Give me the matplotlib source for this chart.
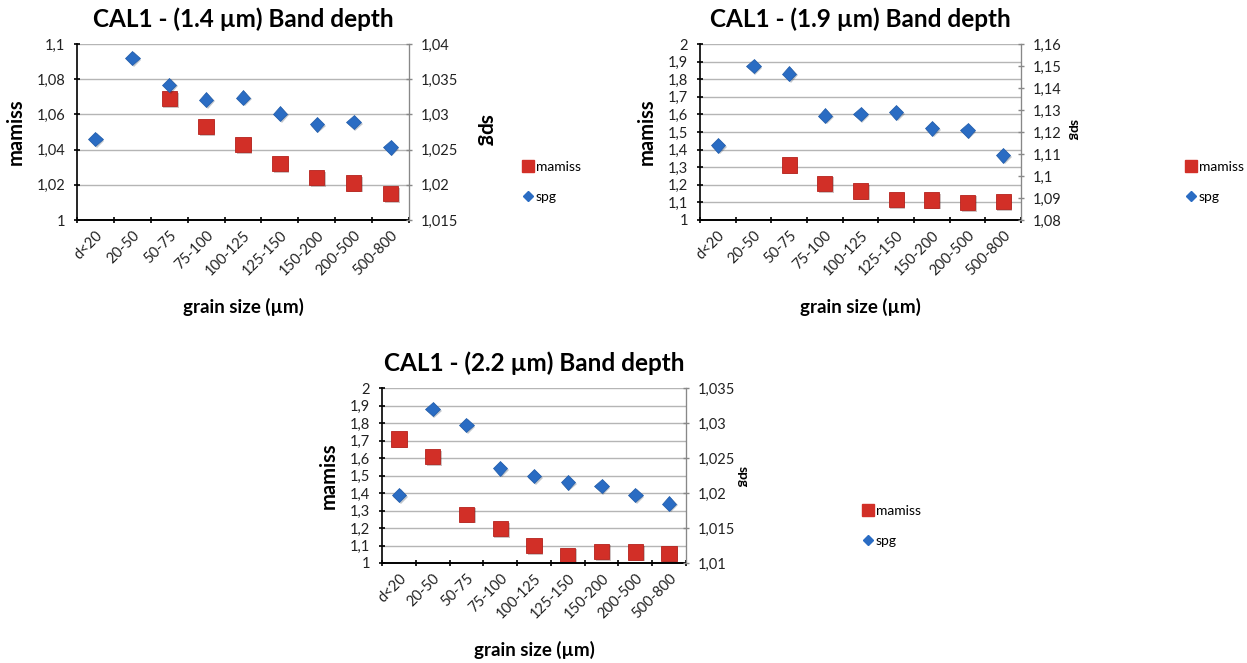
import matplotlib.pyplot as plt
import matplotlib.patheffects as pe
import numpy as np
from matplotlib.lines import Line2D
from matplotlib.ticker import FixedLocator, FuncFormatter

plt.rcParams['font.family'] = ['Lato', 'DejaVu Sans']

categories = ['d<20', '20-50', '50-75', '75-100', '100-125', '125-150',
              '150-200', '200-500', '500-800']

# 1.4 um band
mamiss_14 = [np.nan, np.nan, 1.069, 1.053, 1.043, 1.032, 1.024, 1.021, 1.015]
spg_14 = [1.0265, 1.038, 1.0342, 1.0321, 1.0324, 1.0301, 1.0286, 1.0289, 1.0253]

# 1.9 um band
mamiss_19 = [np.nan, np.nan, 1.313, 1.209, 1.165, 1.118, 1.113, 1.100, 1.104]
spg_19 = [1.1139, 1.150, 1.1465, 1.1275, 1.1281, 1.1289, 1.1216, 1.1207, 1.1094]

# 2.2 um band
mamiss_22 = [1.709, 1.608, 1.279, 1.197, 1.101, 1.044, 1.066, 1.063, 1.054]
spg_22 = [1.0197, 1.032, 1.0297, 1.0235, 1.0224, 1.0215, 1.0210, 1.0197, 1.0185]

RED = '#d22f27'
BLUE = '#2a6cc3'
W, H = 1247, 663


def comma_fmt(v, pos=None):
    return ('%g' % round(v, 4)).replace('.', ',')


def panel(box, title, mamiss, spg, left_ticks, right_ticks, legend_xy,
          spg_size, spg_xy):
    x0, y0, x1, y1 = box
    ax = fig.add_axes([x0 / W, 1 - y1 / H, (x1 - x0) / W, (y1 - y0) / H])
    ax2 = ax.twinx()
    x = np.arange(len(categories))
    shadow = [pe.SimplePatchShadow(offset=(1.2, -1.2), alpha=0.25), pe.Normal()]

    ax.plot(x, mamiss, 's', ms=11, color=RED, mec='#b5221c', mew=0.6,
            path_effects=shadow)
    ax2.plot(x, spg, 'D', ms=7.4, color=BLUE, mec='#1f5aa8', mew=0.5,
             path_effects=shadow)

    ax.set_xlim(-0.5, len(categories) - 0.5)
    ax.set_ylim(left_ticks[0], left_ticks[-1])
    ax2.set_ylim(right_ticks[0], right_ticks[-1])
    ax.yaxis.set_major_locator(FixedLocator(left_ticks))
    ax2.yaxis.set_major_locator(FixedLocator(right_ticks))
    ax.yaxis.set_major_formatter(FuncFormatter(comma_fmt))
    ax2.yaxis.set_major_formatter(FuncFormatter(comma_fmt))

    ax.set_xticks(x)
    ax.set_xticklabels(categories, rotation=45, ha='right',
                       rotation_mode='anchor', fontsize=10.5, color='#222222')
    ax.tick_params(axis='x', which='major', length=0, pad=6)
    ax.set_xticks(np.arange(-0.5, len(categories)), minor=True)
    ax.tick_params(axis='x', which='minor', length=5, direction='inout',
                   width=1.2)
    ax.tick_params(axis='y', length=5, direction='inout', width=1.2,
                   labelsize=10.5, labelcolor='#222222', pad=6)
    ax2.tick_params(axis='y', length=5, direction='inout', width=1.0,
                    labelsize=10.5, labelcolor='#222222', pad=6,
                    color='#888888')

    ax.grid(axis='y', color='#b5b5b5', lw=1)
    ax.set_axisbelow(True)
    for a in (ax, ax2):
        a.spines['top'].set_visible(False)
    ax.spines['left'].set_linewidth(1.2)
    ax.spines['bottom'].set_linewidth(1.4)
    ax2.spines['right'].set_color('#888888')
    ax2.spines['left'].set_visible(False)
    ax2.spines['bottom'].set_visible(False)

    ax.set_title(title, fontsize=17.5, fontweight='bold', pad=12)
    ax.set_ylabel('mamiss', fontsize=14.5, fontweight='bold', labelpad=8)
    ax.set_xlabel('grain size (µm)', fontsize=13.5, fontweight='bold',
                  labelpad=14)
    fig.text(spg_xy[0] / W, 1 - spg_xy[1] / H, 'spg', rotation=270,
             fontsize=spg_size, fontweight='bold', ha='center', va='center')

    handles = [Line2D([], [], ls='', marker='s', ms=8, color=RED),
               Line2D([], [], ls='', marker='D', ms=5, color=BLUE)]
    fig.legend(handles, ['mamiss', 'spg'], loc='upper left',
               bbox_to_anchor=(legend_xy[0] / W, 1 - legend_xy[1] / H),
               frameon=False, fontsize=10, handlelength=0.8,
               handletextpad=0.2, labelspacing=1.3, borderpad=0)


fig = plt.figure(figsize=(12.47, 6.63), dpi=100)

panel((77, 44, 409, 220), 'CAL1 - (1.4 µm) Band depth', mamiss_14, spg_14,
      [1, 1.02, 1.04, 1.06, 1.08, 1.1],
      [1.015, 1.02, 1.025, 1.03, 1.035, 1.04],
      (515, 154), 15, (486, 130))
panel((700, 44, 1021, 220), 'CAL1 - (1.9 µm) Band depth', mamiss_19, spg_19,
      [1, 1.1, 1.2, 1.3, 1.4, 1.5, 1.6, 1.7, 1.8, 1.9, 2],
      [1.08, 1.09, 1.1, 1.11, 1.12, 1.13, 1.14, 1.15, 1.16],
      (1178, 154), 10, (1074, 130))
panel((382, 388, 686, 563), 'CAL1 - (2.2 µm) Band depth', mamiss_22, spg_22,
      [1, 1.1, 1.2, 1.3, 1.4, 1.5, 1.6, 1.7, 1.8, 1.9, 2],
      [1.01, 1.015, 1.02, 1.025, 1.03, 1.035],
      (855, 498), 10, (743, 477))

fig.savefig('out.png', dpi=100)
